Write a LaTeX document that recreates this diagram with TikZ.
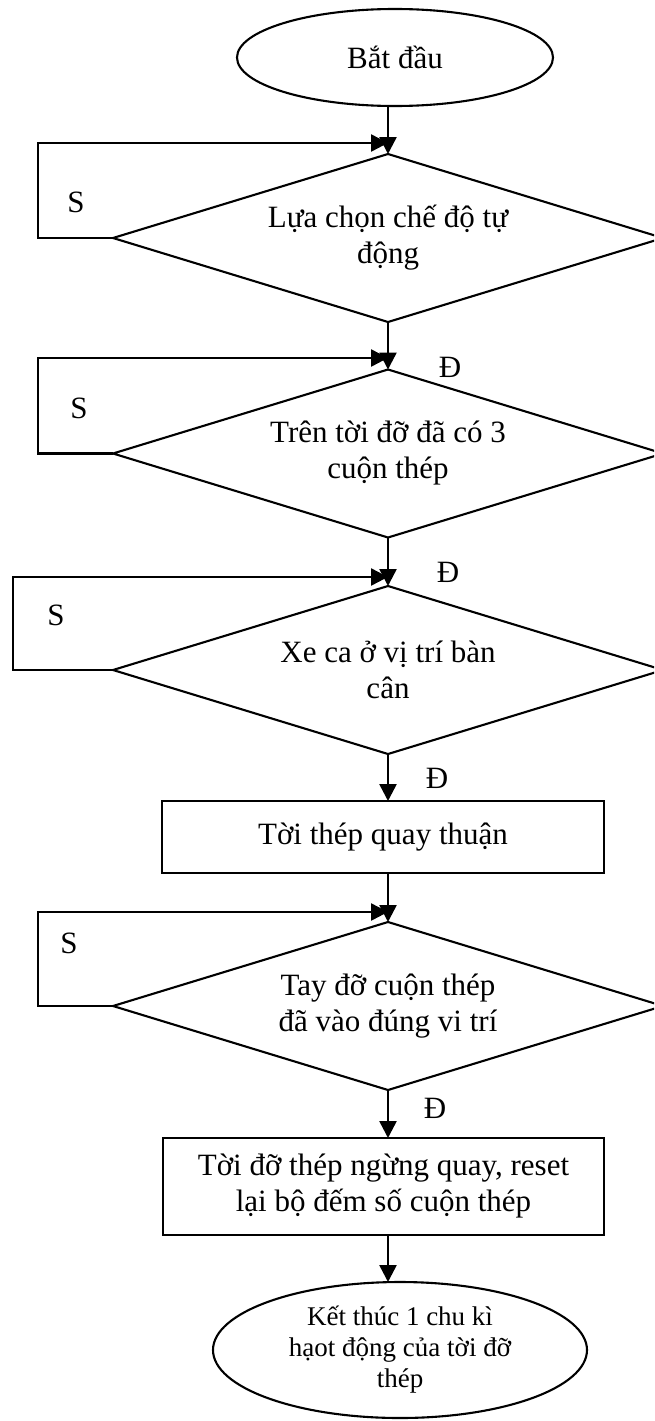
\documentclass[tikz,border=0pt]{standalone}
\usepackage{fontspec}
\setmainfont{Liberation Serif}
\usetikzlibrary{shapes.geometric,arrows.meta}
\begin{document}
\begin{tikzpicture}[x=1pt,y=-1pt,
  every node/.style={font=\fontsize{31}{36}\selectfont},
  shapeline/.style={draw, line width=2.1pt, outer sep=0pt, inner sep=0pt, align=center},
  decision/.style={shapeline, diamond, minimum width=550pt, minimum height=168pt, shape aspect=3.27},
  terminal/.style={shapeline, ellipse},
  process/.style={shapeline, rectangle},
  flow/.style={line width=2.5pt, -{Triangle[length=17pt,width=17pt]}},
  lbl/.style={inner sep=0pt}
]
\useasboundingbox (0,0) rectangle (654,1421);
\clip (0,0) rectangle (654,1421);

% flow steps
\node[terminal, minimum width=316pt, minimum height=97pt] (start) at (395,57.5) {Bắt đầu};
\node[decision] (d1) at (388,238) {Lựa chọn chế độ tự\\động};
\node[decision] (d2) at (388,453.5) {Trên tời đỡ đã có 3\\cuộn thép};
\node[decision] (d3) at (388,670) {Xe ca ở vị trí bàn\\cân};
\node[process, minimum width=442pt, minimum height=72pt] (r1) at (383,837) {Tời thép quay thuận};
\node[decision] (d4) at (388,1006) {Tay đỡ cuộn thép\\đã vào đúng vi trí};
\node[process, minimum width=441pt, minimum height=97pt] (r2) at (383.5,1186.5) {Tời đỡ thép ngừng quay, reset\\lại bộ đếm số cuộn thép};
\node[terminal, minimum width=374pt, minimum height=136pt, font=\fontsize{27}{31}\selectfont] (stop) at (400,1350) {Kết thúc 1 chu kì\\hạot động của tời đỡ\\thép};

% loop junctions and corners
\coordinate (j1) at (388,143);
\coordinate (j2) at (388,358);
\coordinate (j3) at (388,577);
\coordinate (j4) at (388,912);
\coordinate (c1) at (38,143);
\coordinate (c2) at (38,358);
\coordinate (c3) at (13,577);
\coordinate (c4) at (38,912);

% connectors
\draw[flow] (start.south -| j1) -- (d1.north);
\draw[flow] (d1.west) -| (c1) -- (j1);
\draw[flow] (d1.south) -- (d2.north);
\draw[flow] (d2.west) -| (c2) -- (j2);
\draw[flow] (d2.south) -- (d3.north);
\draw[flow] (d3.west) -| (c3) -- (j3);
\draw[flow] (d3.south) -- (d3.south |- r1.north);
\draw[flow] (r1.south -| j4) -- (d4.north);
\draw[flow] (d4.west) -| (c4) -- (j4);
\draw[flow] (d4.south) -- (d4.south |- r2.north);
\draw[flow] (r2.south -| d4.south) -- (stop.north -| d4.south);

% branch labels
\node[lbl] (s1) at (76,202) {S};
\node[lbl] (s2) at (79,408) {S};
\node[lbl] (s3) at (56,615) {S};
\node[lbl] (s4) at (69,943) {S};
\node[lbl] (y1) at (450,367) {Đ};
\node[lbl] (y2) at (448,572) {Đ};
\node[lbl] (y3) at (437,778) {Đ};
\node[lbl] (y4) at (435,1108) {Đ};
\end{tikzpicture}
\end{document}
